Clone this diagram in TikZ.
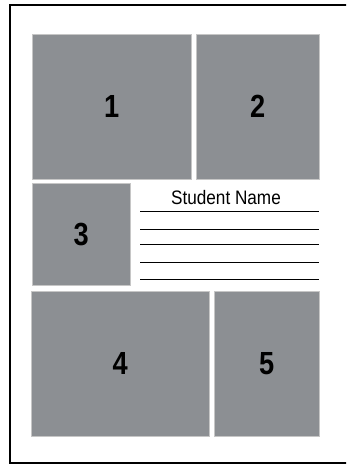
\documentclass[tikz,border=0pt]{standalone}
\usepackage{fontspec}
\setmainfont{Liberation Sans}
\newfontfamily\numfont[FakeStretch=0.85]{Liberation Sans}
\newfontfamily\namefont[FakeStretch=0.88]{Liberation Sans}
\definecolor{panelgray}{HTML}{8C8F93}
\begin{document}
\begin{tikzpicture}[x=1pt,y=-1pt,
	panel/.style={anchor=north west,fill=panelgray,draw=gray!45,line width=0.5pt,inner sep=0pt,
		font=\numfont\bfseries\fontsize{32}{32}\selectfont,text=black}]
		\useasboundingbox (0,0) rectangle (346,465);
		\clip (0,0) rectangle (346,465);
		\draw[line width=2pt] (10,5) rectangle (352,463);
		\node[panel,minimum width=159pt,minimum height=145pt] (p1) at (32,34) {1};
		\node[panel,minimum width=123pt,minimum height=145pt] (p2) at (196,34) {2};
		\node[panel,minimum width=98pt,minimum height=102pt] (p3) at (32,183) {3};
		\node[panel,minimum width=178pt,minimum height=145pt] (p4) at (31,291) {4};
		\node[panel,minimum width=105pt,minimum height=145pt] (p5) at (214,291) {5};
		\node[font=\namefont\fontsize{19.5}{20}\selectfont,inner sep=0pt] (name) at (226,198) {Student Name};
		\foreach \y in {211.3,229,244.3,262.3,279.7}
			\draw[line width=1pt] (140,\y) -- (319,\y);
	\end{tikzpicture}
\end{document}
